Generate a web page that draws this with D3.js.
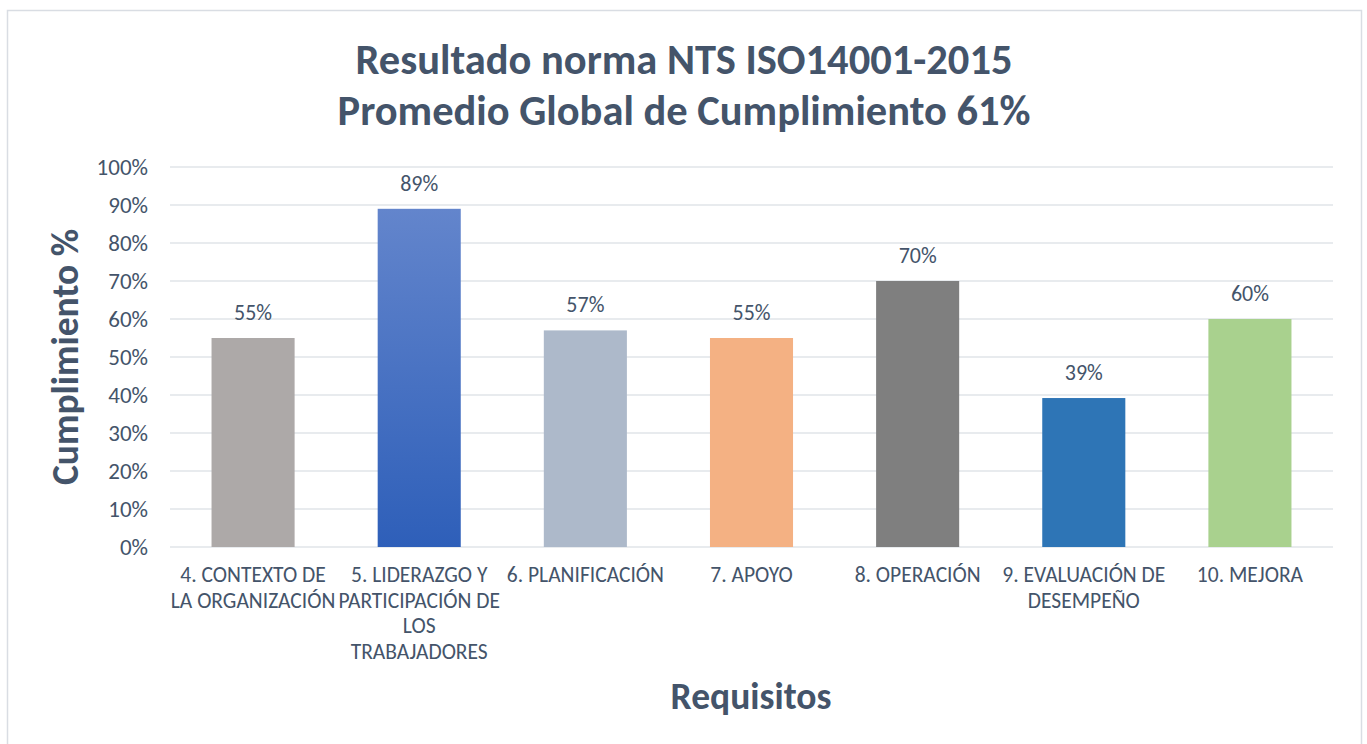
<!DOCTYPE html>
<html><head><meta charset="utf-8">
<script src="https://cdn.jsdelivr.net/npm/d3@7"></script>
<style>body{margin:0;background:#fff;}svg{display:block;}</style>
</head><body>
<script>
const categories = ["4. CONTEXTO DE\nLA ORGANIZACIÓN","5. LIDERAZGO Y\nPARTICIPACIÓN DE\nLOS\nTRABAJADORES","6. PLANIFICACIÓN","7. APOYO","8. OPERACIÓN","9. EVALUACIÓN DE\nDESEMPEÑO","10. MEJORA"];
const values = [55, 89, 57, 55, 70, 39.2, 60];
const valueLabels = ["55%","89%","57%","55%","70%","39%","60%"];
const barColors = ["#ADA9A8","url(#g2)","#ADB9CA","#F4B183","#7F7F7F","#2E75B6","#A9D18E"];
const yTicks = [0,10,20,30,40,50,60,70,80,90,100];
const titleLines = ["Resultado norma NTS ISO14001-2015","Promedio Global de Cumplimiento 61%"];
const yTitle = "Cumplimiento %";
const xTitle = "Requisitos";

const W=1367,H=744, txt="#44546A", font="Carlito, Calibri, Lato, sans-serif";
const svg=d3.select("body").append("svg").attr("width",W).attr("height",H);
const defs=svg.append("defs");
const g2=defs.append("linearGradient").attr("id","g2").attr("x1",0).attr("y1",0).attr("x2",0).attr("y2",1);
g2.append("stop").attr("offset","0%").attr("stop-color","#6385CC");
g2.append("stop").attr("offset","100%").attr("stop-color","#2E5FB9");

svg.append("rect").attr("x",7.5).attr("y",10.5).attr("width",1354).attr("height",760).attr("fill","#fff").attr("stroke","#D9DDE3").attr("stroke-width",1.5);

const x=d3.scaleBand().domain(categories).range([170,1333]).paddingInner(0.5).paddingOuter(0.25);
const y=d3.scaleLinear().domain([0,100]).range([547,167]);

svg.append("g").selectAll("line").data(yTicks).join("line")
  .attr("x1",170).attr("x2",1333).attr("y1",d=>y(d)).attr("y2",d=>y(d))
  .attr("stroke","#E1E4E8").attr("stroke-width",1.5);

const ya=svg.append("g").attr("transform","translate(170,0)")
  .call(d3.axisLeft(y).tickValues(yTicks).tickFormat(d=>d+"%").tickSize(0).tickPadding(22));
ya.select(".domain").remove();
ya.selectAll("text").attr("fill",txt).attr("font-size",23).attr("font-family",font);

svg.append("g").selectAll("rect").data(categories).join("rect")
  .attr("x",d=>x(d)).attr("width",x.bandwidth())
  .attr("y",(d,i)=>y(values[i])).attr("height",(d,i)=>y(0)-y(values[i]))
  .attr("fill",(d,i)=>barColors[i]);

svg.append("g").selectAll("text").data(categories).join("text")
  .attr("x",d=>x(d)+x.bandwidth()/2).attr("y",(d,i)=>y(values[i])-18)
  .attr("text-anchor","middle").attr("fill",txt).attr("font-size",22).attr("font-family",font)
  .text((d,i)=>valueLabels[i]);

const xa=svg.append("g").attr("transform","translate(0,547)")
  .call(d3.axisBottom(x).tickSize(0).tickFormat(""));
xa.select(".domain").remove();
xa.selectAll(".tick").each(function(d){
  const t=d3.select(this).append("text").attr("fill",txt).attr("font-size",21.5).attr("font-family",font)
    .attr("text-anchor","middle").attr("y",35);
  d.split("\n").forEach((s,k)=>t.append("tspan").attr("x",0).attr("dy",k?25.6:0).text(s));
});

svg.append("g").selectAll("text").data(titleLines).join("text")
  .attr("x",684).attr("y",(d,i)=>74+i*51).attr("text-anchor","middle")
  .attr("fill",txt).attr("font-weight","bold").attr("font-size",42.5).attr("font-family",font).text(d=>d);

svg.append("text").attr("transform","translate(78,357) rotate(-90)").attr("text-anchor","middle")
  .attr("fill",txt).attr("font-weight","bold").attr("font-size",37.5).attr("font-family",font).text(yTitle);
svg.append("text").attr("x",751).attr("y",709).attr("text-anchor","middle")
  .attr("fill",txt).attr("font-weight","bold").attr("font-size",37.5).attr("font-family",font).text(xTitle);
</script>
</body></html>
